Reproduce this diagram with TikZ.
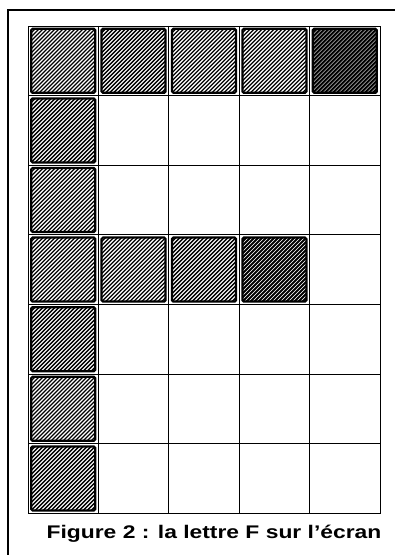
\documentclass[tikz,border=0pt]{standalone}
\usepackage{fontspec}
\setmainfont{Liberation Sans}
\newfontfamily\legendfont[FakeStretch=1.25]{Liberation Sans}

\begin{document}
\begin{tikzpicture}[x=3.52cm, y=-3.48cm,
    hatchwidth/.store in=\hatchwidth, hatchwidth=1.9pt,
    pixel/.style = {draw, line width=3.2pt, rounded corners=2pt, inner sep=0pt,
      minimum size=3.2cm, fill=white,
      path picture={\foreach \k in {-16,...,16}
        \draw[line width=\hatchwidth]
          ([xshift=\k*0.2cm]path picture bounding box.center) ++(-2cm,-2cm) -- ++(4cm,4cm);}},
    darkpixel/.style = {pixel, hatchwidth=3pt},
    gridline/.style = {line width=1.1pt},
    frameline/.style = {line width=2pt},
    caption/.style = {anchor=base, font=\legendfont\bfseries\fontsize{26}{30}\selectfont}]
    \useasboundingbox (-1.4cm,1.3cm) rectangle (18.6cm,-26.45cm);
    % frame
    \coordinate (frameTL) at (-1.0cm, 0.8cm);
    \coordinate (frameTR) at (18.35cm, 0.8cm);
    \coordinate (frameBL) at (-1.0cm, -26.45cm);
    \draw[frameline] (frameBL) |- (frameTR);
    % screen grid
    \draw[gridline] (0,0) rectangle (5,7);
    \draw[gridline] (1,0) -- (1,7) (2,0) -- (2,7) (3,0) -- (3,7) (4,0) -- (4,7);
    \draw[gridline] (0,1) -- (5,1) (0,2) -- (5,2) (0,3) -- (5,3)
                    (0,4) -- (5,4) (0,5) -- (5,5) (0,6) -- (5,6);
    % letter F
    \node[pixel]     (p11) at (0.5, 0.5) {};
    \node[pixel]     (p12) at (1.5, 0.5) {};
    \node[pixel]     (p13) at (2.5, 0.5) {};
    \node[pixel]     (p14) at (3.5, 0.5) {};
    \node[darkpixel] (p15) at (4.5, 0.5) {};
    \node[pixel]     (p21) at (0.5, 1.5) {};
    \node[pixel]     (p31) at (0.5, 2.5) {};
    \node[pixel]     (p41) at (0.5, 3.5) {};
    \node[pixel]     (p42) at (1.5, 3.5) {};
    \node[pixel]     (p43) at (2.5, 3.5) {};
    \node[darkpixel] (p44) at (3.5, 3.5) {};
    \node[pixel]     (p51) at (0.5, 4.5) {};
    \node[pixel]     (p61) at (0.5, 5.5) {};
    \node[pixel]     (p71) at (0.5, 6.5) {};
    \node[caption]   (legend) at (9.3cm, -25.6cm) {Figure 2 : la lettre F sur l’écran};
\end{tikzpicture}
\end{document}
